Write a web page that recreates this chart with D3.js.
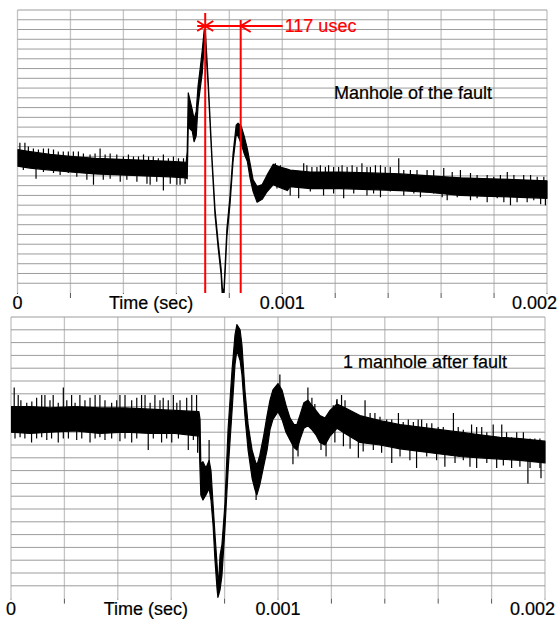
<!DOCTYPE html>
<html>
<head>
<meta charset="utf-8">
<script src="https://cdn.jsdelivr.net/npm/d3@7/dist/d3.min.js"></script>
<style>
  body { margin: 0; background: #fff; }
  svg text { font-family: "Liberation Sans", Arial, sans-serif; font-size: 18px; stroke-width: 0.2px; }
</style>
</head>
<body>
<div id="chart"></div>
<script>
// time in microseconds, level in grid divisions (no y labels on the scope plot)
var tickTimes = [0, 1000, 2000];
var tickLabels = ["0", "0.001", "0.002"];

// manhole of the fault: band edges (hi / lo)
var topT  = [0,47,123,199,293,388,482,577,637, 641,645,652,660,667,675,682,690,698,705,709, 720,735,746,758,769,775,
             780,791,803,814,826,833,845,856,868,879,890,905,924,943,966,992,1019, 1030,1106,1219,1331,1447,1559,1673,1787,1900,2000];
var topHi = [-0.3,-0.5,-0.8,-1.0,-1.2,-1.3,-1.4,-1.5,-1.6, -0.5,5.5,4.7,3.8,2.8,3.6,6.2,8.0,9.9,11.9,12.1, 6.9,-1.3,-6.4,-9.8,-12.5,-15.0,
             -14.5,-8.4,-5.0,-0.8,2.2,2.4,2.1,1.1,-0.2,-1.8,-3.4,-4.1,-3.9,-2.9,-1.8,-2.1,-2.3, -2.4,-2.6,-2.6,-2.7,-2.8,-3.0,-3.2,-3.3,-3.4,-3.5];
var topLo = [-2.0,-2.2,-2.4,-2.6,-2.8,-2.9,-3.0,-3.1,-3.2, -3.3,2.1,1.8,1.6,0.5,1.1,4.2,5.9,7.6,10.4,10.9, 6.3,-1.8,-7.0,-10.4,-13.1,-16.0,
             -15.2,-9.2,-5.8,-1.6,1.2,1.1,0.3,-0.7,-1.5,-3.3,-4.6,-5.7,-5.4,-4.6,-3.9,-4.2,-4.5, -4.1,-4.3,-4.3,-4.4,-4.5,-4.7,-5.0,-5.1,-5.2,-5.3];
// noise hairs sticking out of the band
var topSpikeT = [9,28,41,60,79,98,117,136,154,173,192,211,230,249,274,293,312,331,350,375,400,419,438,457,476,495,513,532,551,570,589,608,627,
                 22,70,98,136,161,192,224,262,287,324,350,388,413,451,489,501,526,551,577,602,614,633,
                 974,993,1081,1093,1112,1131,1144,1163,1175,1194,1213,1226,1245,1264,1282,1301,1320,1333,1352,1371,
                 1389,1408,1440,1459,1484,1509,1547,1572,1610,1642,1673,1711,1736,1774,1799,1824,1850,1875,1912,1938,1963,1988,
                 980,1030,1062,1106,1156,1194,1232,1270,1320,1345,1371,1408,1459,1497,1522,1572,1604,1623,1661,1711,
                 1736,1774,1812,1837,1862,1887,1925,1950,1976,1994];
var topSpikeV = [0.4,0.4,0.0,-0.2,-0.3,-0.2,-0.2,-0.3,-0.5,-0.5,-0.5,-0.5,-0.5,-0.7,-0.8,-0.7,-0.2,-0.8,-0.7,-0.8,-1.0,-0.8,-1.0,-1.0,-0.8,-1.0,-1.0,-1.2,-0.8,-1.2,-1.0,-1.2,-1.2,
                 -2.4,-3.3,-2.6,-2.7,-2.9,-2.7,-3.1,-3.4,-3.9,-3.4,-3.3,-3.6,-3.4,-3.6,-3.8,-3.9,-3.6,-4.5,-3.8,-3.9,-3.9,-3.8,
                 -1.7,-1.9,-1.7,-1.9,-2.1,-2.1,-1.9,-2.1,-1.9,-2.1,-2.1,-1.9,-2.1,-1.9,-2.1,-1.7,-2.1,-2.1,-1.9,-1.9,
                 -2.1,-2.1,-1.2,-2.4,-2.4,-2.4,-2.4,-2.4,-2.2,-2.6,-2.4,-2.7,-2.9,-2.9,-3.1,-2.9,-2.6,-2.9,-2.9,-2.9,-3.1,-3.1,
                 -4.3,-5.0,-5.3,-4.6,-5.0,-4.8,-5.3,-4.8,-5.0,-4.8,-5.2,-4.6,-5.0,-4.8,-5.2,-4.8,-5.2,-5.5,-5.2,-5.5,
                 -5.3,-5.7,-5.3,-5.7,-6.0,-5.7,-5.7,-5.5,-5.9,-6.0];

// 1 manhole after fault
var botT  = [0,71,146,240,333,427,521,614,704,
             708,711,719,730,742,749,757,764,772,775,779,783,790,801,813,828,839,846,858,865,876,888,903,914,921,932,947,959,
             970,981,1000,1015,1030,1045,1060,1071,1082,1097,1112,1127,1142,1157,1176,1195,1221,1251,
             1307,1382,1457,1532,1607,1682,1756,1831,1906,2000];
var botHi = [2.0,2.0,1.9,2.0,1.9,1.9,1.8,1.7,1.6,
             1.0,-2.5,-2.3,-2.8,-2.2,-3.0,-5.7,-8.0,-10.4,-11.5,-11.2,-9.6,-8.8,-5.7,0.2,4.9,7.6,8.4,8.0,6.8,3.3,0.6,-1.4,-2.2,-2.6,-1.8,-0.2,1.3,
             2.5,3.3,3.8,3.3,2.1,1.1,0.6,0.6,1.3,2.3,2.5,2.1,1.7,1.3,1.1,1.7,2.2,1.9,
             1.3,0.9,0.6,0.4,0.2,0.0,-0.2,-0.4,-0.5,-0.7];
var botLo = [0.0,-0.1,0.0,0.1,-0.1,0.0,-0.1,-0.1,-0.3,
             -3.0,-4.9,-5.3,-4.9,-4.4,-5.3,-7.3,-10.0,-12.3,-12.9,-12.6,-12.3,-11.2,-7.6,-3.0,1.7,5.3,6.4,5.6,4.5,1.3,-1.4,-3.6,-4.5,-4.9,-4.1,-2.6,-1.4,
             0.2,1.0,1.6,1.0,0.0,-0.6,-1.2,-1.4,-0.6,0.3,0.5,0.2,-0.2,-0.8,-1.0,-0.3,0.3,-0.1,
             -0.8,-1.0,-1.3,-1.5,-1.7,-1.9,-2.0,-2.1,-2.2,-2.4];
var botSpikeT = [12,27,37,59,78,96,115,127,146,158,177,196,209,227,240,258,277,296,315,333,
                 352,377,396,408,427,452,471,489,502,521,539,558,570,589,608,621,633,658,677,695,
                 15,34,52,77,96,115,134,152,177,196,215,246,265,296,315,333,352,377,408,427,
                 452,471,514,533,564,583,602,627,664,683,699,
                 742,918,977,1007,1056,1075,1112,1127,1138,1161,1180,1221,
                 1207,1220,1238,1251,1270,1288,1326,1345,1363,1382,1407,1426,1451,1469,1488,1507,1525,1538,1557,1576,
                 1600,1619,1657,1675,1694,1725,1744,1763,1782,1806,1838,1856,1875,1894,1919,1944,1962,1981,
                 1213,1245,1270,1301,1319,1357,1388,1426,1457,1494,1519,1557,1594,1625,1663,1694,1719,1744,1782,1819,
                 1844,1875,1906,1944,1981,1936,1985];
var botSpikeV = [3.5,2.9,2.5,2.3,2.4,2.7,2.9,2.9,2.5,2.9,2.3,3.5,2.5,2.9,2.3,2.9,2.5,2.7,2.9,2.9,
                 2.5,2.3,2.5,2.9,2.9,2.5,2.7,2.9,2.9,2.3,2.9,2.5,2.7,2.5,2.9,2.3,2.5,2.7,2.9,2.9,
                 -0.5,-0.4,-0.5,-0.8,-0.5,-0.4,-0.6,-0.5,-0.8,-0.5,-0.5,-0.6,-0.5,-0.8,-0.5,-0.4,-0.6,-0.5,-0.7,-0.5,
                 -0.8,-0.5,-1.4,-0.5,-0.8,-0.5,-0.8,-0.5,-1.4,-0.6,-1.6,
                 -0.6,-5.3,2.5,4.5,-2.5,-1.9,3.5,2.7,2.2,-1.4,-1.9,2.6,
                 2.1,2.5,2.9,2.5,1.5,1.5,2.5,1.5,1.5,1.2,1.0,1.0,1.5,0.8,1.0,0.8,1.0,1.0,0.7,0.7,
                 0.4,0.4,1.5,0.4,0.2,0.6,0.4,0.4,0.0,0.6,0.6,0.0,-0.4,0.0,0.0,-0.5,-0.5,-0.5,
                 -0.8,-1.1,-1.3,-2.0,-1.5,-1.4,-1.6,-2.4,-1.9,-2.2,-2.8,-1.9,-2.2,-2.7,-2.4,-2.2,-2.7,-2.8,-2.4,-2.8,
                 -2.6,-2.8,-2.7,-2.8,-2.8,-4.0,-3.6];

// cursor annotation on the upper trace
var cursorT = [709, 843];
var cursorLabel = "117 usec";

var svg = d3.select('#chart').append('svg')
  .attr('width', 559)
  .attr('height', 619);

var panels = [
  { id: 'a', T: topT, H: topHi, L: topLo, sT: topSpikeT, sV: topSpikeV,
    left: 17.5, right: 547, top: 10, bottom: 293, yMin: -15, yMax: 14,
    labelY: 309, title: "Manhole of the fault", titleX: 334, titleY: 99, cursor: true },
  { id: 'b', T: botT, H: botHi, L: botLo, sT: botSpikeT, sV: botSpikeV,
    left: 11, right: 545, top: 317, bottom: 598.6, yMin: -13, yMax: 9,
    labelY: 615, title: "1 manhole after fault", titleX: 343, titleY: 368, cursor: false }
];

var middleAt = function(T, H, L, t) {
  var i = d3.bisectLeft(T, t);
  if (i <= 0) return (H[0] + L[0]) / 2;
  if (i >= T.length) return (H[T.length - 1] + L[T.length - 1]) / 2;
  var a = (t - T[i - 1]) / (T[i] - T[i - 1]);
  var m0 = (H[i - 1] + L[i - 1]) / 2, m1 = (H[i] + L[i]) / 2;
  return m0 + (m1 - m0) * a;
};

panels.forEach(function(p) {
  var g = svg.append('g');
  var x = d3.scaleLinear().domain([0, 2000]).range([p.left, p.right]);
  var y = d3.scaleLinear().domain([p.yMin, p.yMax]).range([p.bottom, p.top]);

  // grid
  g.selectAll('line.v').data(d3.range(0, 2001, 200)).enter().append('line')
    .attr('x1', x).attr('x2', x)
    .attr('y1', p.top).attr('y2', p.bottom)
    .attr('stroke', '#c4c4c4').attr('stroke-width', 1.3);
  g.selectAll('line.h').data(d3.range(p.yMin + 1, p.yMax + 1)).enter().append('line')
    .attr('x1', p.left).attr('x2', p.right)
    .attr('y1', y).attr('y2', y)
    .attr('stroke', '#9c9c9c').attr('stroke-width', 1);
  // tick marks
  g.selectAll('line.t').data(d3.range(0, 2001, 200)).enter().append('line')
    .attr('x1', x).attr('x2', x)
    .attr('y1', p.bottom).attr('y2', p.bottom + 5)
    .attr('stroke', '#555');

  // trace
  g.append('clipPath').attr('id', 'clip-' + p.id).append('rect')
    .attr('x', p.left).attr('y', p.top)
    .attr('width', p.right - p.left + 2).attr('height', p.bottom - p.top);
  var tr = g.append('g').attr('clip-path', 'url(#clip-' + p.id + ')');
  var band = d3.area()
    .x(function(d, i) { return x(p.T[i]); })
    .y0(function(d, i) { return y(p.L[i]); })
    .y1(function(d, i) { return y(p.H[i]); });
  tr.append('path').datum(p.T)
    .attr('d', band)
    .attr('fill', '#000').attr('stroke', '#000')
    .attr('stroke-width', 1.2).attr('stroke-linejoin', 'round');
  tr.selectAll('line.s').data(p.sT).enter().append('line')
    .attr('x1', function(d) { return x(d); })
    .attr('x2', function(d) { return x(d); })
    .attr('y1', function(d) { return y(middleAt(p.T, p.H, p.L, d)); })
    .attr('y2', function(d, i) { return y(p.sV[i]); })
    .attr('stroke', '#000').attr('stroke-width', 1.2);

  // red time cursors
  if (p.cursor) {
    var c0 = x(cursorT[0]), c1 = x(cursorT[1]), cy = p.top + 16;
    var red = g.append('g').attr('stroke', '#ff0000').attr('stroke-width', 2).attr('fill', 'none');
    red.append('line').attr('x1', c0).attr('x2', c0).attr('y1', p.top + 3).attr('y2', p.bottom);
    red.append('line').attr('x1', c1).attr('x2', c1).attr('y1', p.top + 10).attr('y2', p.bottom);
    red.append('line').attr('x1', c0 - 8).attr('x2', c1 + 42).attr('y1', cy).attr('y2', cy);
    red.append('path').attr('d', 'M' + (c0 - 8) + ',' + (cy - 5) + 'L' + (c0 + 8) + ',' + (cy + 5)
      + 'M' + (c0 - 8) + ',' + (cy + 5) + 'L' + (c0 + 8) + ',' + (cy - 5));
    red.append('path').attr('d', 'M' + (c1 + 10) + ',' + (cy - 6) + 'L' + c1 + ',' + cy + 'L' + (c1 + 10) + ',' + (cy + 6));
    g.append('text').attr('x', c1 + 44).attr('y', cy + 5.5)
      .attr('fill', '#ff0000').attr('stroke', '#ff0000').text(cursorLabel);
  }

  g.append('text').attr('x', p.titleX).attr('y', p.titleY)
    .attr('fill', '#000').attr('stroke', '#000').text(p.title);

  // axis labels on white boxes
  var labels = tickTimes.map(function(t, i) {
    return { x: x(t) + (i === tickTimes.length - 1 ? 10 : 0), s: tickLabels[i],
             anchor: i === tickTimes.length - 1 ? 'end' : 'middle' };
  });
  labels.push({ x: x(505), s: "Time (sec)", anchor: 'middle' });
  labels.forEach(function(l) {
    var box = g.append('rect').attr('fill', '#fff');
    var t = g.append('text').attr('x', l.x).attr('y', p.labelY)
      .attr('text-anchor', l.anchor).attr('fill', '#000').attr('stroke', '#000').text(l.s);
    var b = t.node().getBBox();
    box.attr('x', b.x - 1).attr('y', p.bottom + 1).attr('width', b.width + 2)
      .attr('height', b.y + b.height - p.bottom - 1);
  });
});
</script>
</body>
</html>
